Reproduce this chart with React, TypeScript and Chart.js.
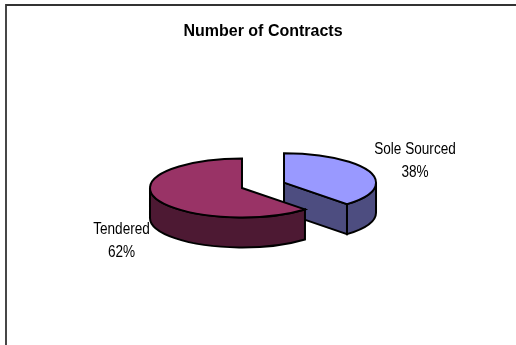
import { useEffect, useRef } from "react";
import { Chart, registerables } from "chart.js";

Chart.register(...registerables);

const chartTitle = "Number of Contracts";
const categories = ["Sole Sourced", "Tendered"];
const contracts = [38, 62];
const topColors = ["#9999FF", "#993366"];
const wallColors = ["#4D4D80", "#4D1933"];

const FONT = "'Liberation Sans', Arial, sans-serif";
const TILT = 0.32; // vertical squash of the pie disc
const DEPTH = 30; // height of the extruded wall
const EXPLODE = 22.6; // radial separation of the slices
const EDGE = 2;
const LABEL_NARROW = 0.85; // horizontal condensing of slice labels

// Centre of each two-line slice label, relative to the chart centre.
const labelAnchors = [
  { dx: 152, dy: -24 },
  { dx: -141.5, dy: 56 },
];

const pie3d = {
  id: "pie3d",
  beforeDraw(chart: any) {
    const { ctx, width, height } = chart;
    ctx.save();
    ctx.fillStyle = "#ffffff";
    ctx.fillRect(0, 0, width, height);
    ctx.strokeStyle = "#333333";
    ctx.lineWidth = 1.8;
    ctx.beginPath();
    ctx.moveTo(6, height);
    ctx.lineTo(6, 5);
    ctx.lineTo(width, 5);
    ctx.stroke();
    ctx.restore();
  },
  beforeDatasetDraw(chart: any) {
    const { ctx } = chart;
    const arcs = chart.getDatasetMeta(0).data;
    ctx.save();
    ctx.strokeStyle = "#000000";
    ctx.lineWidth = EDGE;
    ctx.lineJoin = "miter";

    arcs.forEach((el: any, i: number) => {
      const { x, y, startAngle: a0, endAngle: a1, outerRadius: r } = el.getProps([
        "x",
        "y",
        "startAngle",
        "endAngle",
        "outerRadius",
      ]);
      const mid = (a0 + a1) / 2;
      const cx = x + Math.cos(mid) * EXPLODE;
      const cy = y + Math.sin(mid) * EXPLODE * TILT;
      const ry = r * TILT;
      const rim = (a: number) => [cx + r * Math.cos(a), cy + ry * Math.sin(a)];

      // Flat cut faces that turn toward the viewer.
      ctx.fillStyle = wallColors[i];
      const face = (a: number) => {
        const [px, py] = rim(a);
        ctx.beginPath();
        ctx.moveTo(cx, cy);
        ctx.lineTo(px, py);
        ctx.lineTo(px, py + DEPTH);
        ctx.lineTo(cx, cy + DEPTH);
        ctx.closePath();
        ctx.fill();
        ctx.stroke();
      };
      if (Math.cos(a0) < -1e-6) face(a0);
      if (Math.cos(a1) > 1e-6) face(a1);

      // Outer wall: only the part of the rim on the near half of the disc.
      const w0 = Math.max(a0, 0);
      const w1 = Math.min(a1, Math.PI);
      if (w1 > w0) {
        const [sx, sy] = rim(w0);
        const [ex, ey] = rim(w1);
        ctx.beginPath();
        ctx.moveTo(sx, sy);
        ctx.lineTo(sx, sy + DEPTH);
        ctx.ellipse(cx, cy + DEPTH, r, ry, 0, w0, w1);
        ctx.lineTo(ex, ey);
        ctx.ellipse(cx, cy, r, ry, 0, w1, w0, true);
        ctx.closePath();
        ctx.fill();
        ctx.stroke();
      }

      // Top of the slice: the library's arc, squashed into perspective.
      ctx.save();
      ctx.translate(cx, cy);
      ctx.scale(1, TILT);
      ctx.translate(-x, -y);
      el.draw(ctx);
      ctx.restore();

      ctx.beginPath();
      ctx.moveTo(cx, cy);
      ctx.ellipse(cx, cy, r, ry, 0, a0, a1);
      ctx.closePath();
      ctx.stroke();
    });
    ctx.restore();
    return false;
  },
  afterDatasetsDraw(chart: any) {
    const { ctx } = chart;
    const arcs = chart.getDatasetMeta(0).data;
    const total = contracts.reduce((s, v) => s + v, 0);
    ctx.save();
    ctx.fillStyle = "#000000";
    ctx.font = `16px ${FONT}`;
    ctx.textAlign = "center";
    ctx.textBaseline = "middle";
    arcs.forEach((el: any, i: number) => {
      ctx.save();
      ctx.translate(el.x + labelAnchors[i].dx, el.y + labelAnchors[i].dy);
      ctx.scale(LABEL_NARROW, 1);
      ctx.fillText(categories[i], 0, -11.25);
      ctx.fillText(`${Math.round((contracts[i] / total) * 100)}%`, 0, 11.25);
      ctx.restore();
    });
    ctx.restore();
  },
};

export default function App() {
  const ref = useRef<HTMLCanvasElement>(null);

  useEffect(() => {
    document.body.style.margin = "0";
    const chart = new Chart(ref.current!, {
      type: "pie",
      data: {
        labels: categories,
        datasets: [
          {
            data: contracts,
            backgroundColor: topColors,
            borderWidth: 0,
            radius: 92,
          } as any,
        ],
      },
      options: {
        responsive: false,
        animation: false,
        layout: { padding: { left: 10, bottom: 23.4 } },
        events: [],
        plugins: {
          legend: { display: false },
          tooltip: { enabled: false },
          title: {
            display: true,
            text: chartTitle,
            color: "#000000",
            font: { family: FONT, size: 16, weight: "bold" },
            padding: { top: 21.5, bottom: 8.3 },
          },
        },
      },
      plugins: [pie3d],
    });
    return () => chart.destroy();
  }, []);

  return <canvas ref={ref} width={516} height={345} style={{ display: "block" }} />;
}
